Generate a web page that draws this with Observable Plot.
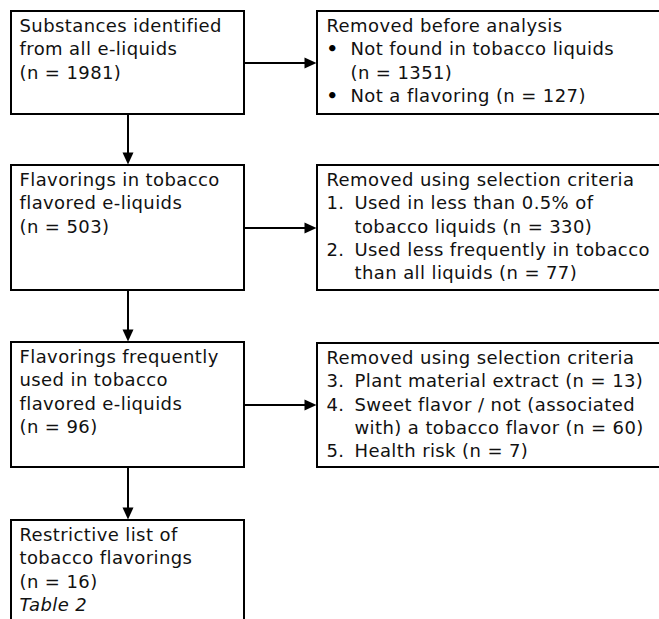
<!DOCTYPE html>
<html><head><meta charset="utf-8">
<script src="https://cdn.jsdelivr.net/npm/d3@7"></script>
<script src="https://cdn.jsdelivr.net/npm/@observablehq/plot@0.6"></script>
<style>html,body{margin:0;padding:0;background:#fff;}</style>
</head><body><div id="chart"></div>
<script>
// ---- data ----
const stageTitles = [
  ["Substances identified", "from all e-liquids"],
  ["Flavorings in tobacco", "flavored e-liquids"],
  ["Flavorings frequently", "used in tobacco", "flavored e-liquids"],
  ["Restrictive list of", "tobacco flavorings"]
];
const stageCounts = [1981, 503, 96, 16];
const stageNotes = ["", "", "", "Table 2"];
const removalHeaders = ["Removed before analysis", "Removed using selection criteria", "Removed using selection criteria"];
const removalMarkers = [["•", "•"], ["1.", "2."], ["3.", "4.", "5."]];
const removalReasons = [
  [["Not found in tobacco liquids", "(n = {n})"], ["Not a flavoring (n = {n})"]],
  [["Used in less than 0.5% of", "tobacco liquids (n = {n})"], ["Used less frequently in tobacco", "than all liquids (n = {n})"]],
  [["Plant material extract (n = {n})"], ["Sweet flavor / not (associated", "with) a tobacco flavor (n = {n})"], ["Health risk (n = {n})"]]
];
const removalCounts = [[1351, 127], [330, 77], [13, 60, 7]];

// ---- layout ----
const W = 659, H = 619, FS = 18, LH = 23.3, FIRST = 20.5;
const leftX = [11, 244], rightX = [317, 680];
const stageY = [[11, 114], [165, 290], [342, 467], [520, 660]];
const removalY = [[11, 114], [165, 290], [343, 467]];
const leftTextX = 19, headX = 326, bulletX = 326, numX = 326, bulletTextX = 350, numTextX = 354;

const boxes = [];
stageY.forEach(([y1, y2]) => boxes.push({x1: leftX[0], x2: leftX[1], y1, y2}));
removalY.forEach(([y1, y2]) => boxes.push({x1: rightX[0], x2: rightX[1], y1, y2}));

const lines = [], italicLines = [], bullets = [];
const lineTop = (y, i) => y + FIRST + i * LH - 0.71 * FS;
stageTitles.forEach((t, k) => {
  const rows = [...t, `(n = ${stageCounts[k]})`];
  rows.forEach((s, i) => lines.push({x: leftTextX, y: lineTop(stageY[k][0], i), text: s}));
  if (stageNotes[k]) italicLines.push({x: leftTextX, y: lineTop(stageY[k][0], rows.length), text: stageNotes[k]});
});
removalHeaders.forEach((h, k) => {
  let i = 0;
  lines.push({x: headX, y: lineTop(removalY[k][0], i++), text: h});
  removalReasons[k].forEach((item, j) => {
    const m = removalMarkers[k][j];
    const isBullet = m === "•";
    (isBullet ? bullets : lines).push({x: isBullet ? bulletX : numX, y: lineTop(removalY[k][0], i), text: m});
    item.forEach(s => {
      lines.push({x: isBullet ? bulletTextX : numTextX, y: lineTop(removalY[k][0], i++), text: s.replace("{n}", removalCounts[k][j])});
    });
  });
});

// arrows
const links = [], heads = [];
const cx = (leftX[0] + leftX[1]) / 2;
stageY.forEach(([y1, y2], k) => {
  if (k < stageY.length - 1) {
    links.push({x1: cx, y1: y2, x2: cx, y2: stageY[k + 1][0] - 6});
    heads.push({x: cx, y: stageY[k + 1][0] - 1, r: 180});
  }
  if (k < removalY.length) {
    const ym = (y1 + y2) / 2;
    links.push({x1: leftX[1], y1: ym, x2: rightX[0] - 6, y2: ym});
    heads.push({x: rightX[0] - 1, y: ym, r: 90});
  }
});
const tri = {draw(ctx) { ctx.moveTo(0, 0); ctx.lineTo(-5.5, 12); ctx.lineTo(5.5, 12); ctx.closePath(); }};

const chart = Plot.plot({
  width: W, height: H, margin: 0,
  x: {domain: [0, W], range: [0, W], axis: null},
  y: {domain: [0, H], range: [0, H], axis: null},
  style: {fontFamily: "DejaVu Sans", background: "#fff", overflow: "hidden", letterSpacing: "0.4px"},
  marks: [
    Plot.rect(boxes, {x1: "x1", x2: "x2", y1: "y1", y2: "y2", fill: "#fff", stroke: "#000", strokeWidth: 2}),
    Plot.link(links, {x1: "x1", y1: "y1", x2: "x2", y2: "y2", stroke: "#000", strokeWidth: 2}),
    Plot.dot(heads, {x: "x", y: "y", rotate: "r", symbol: tri, fill: "#000", stroke: "none", r: 5}),
    Plot.text(lines, {x: "x", y: "y", text: "text", textAnchor: "start", lineAnchor: "top", fontSize: FS, fill: "#111"}),
    Plot.text(bullets, {x: "x", y: "y", text: "text", textAnchor: "start", lineAnchor: "top", fontSize: FS, fill: "#000", fontWeight: "bold"}),
    Plot.text(italicLines, {x: "x", y: "y", text: "text", textAnchor: "start", lineAnchor: "top", fontSize: FS, fill: "#111", fontStyle: "italic"})
  ]
});
document.getElementById("chart").appendChild(chart);
</script>
</body></html>
